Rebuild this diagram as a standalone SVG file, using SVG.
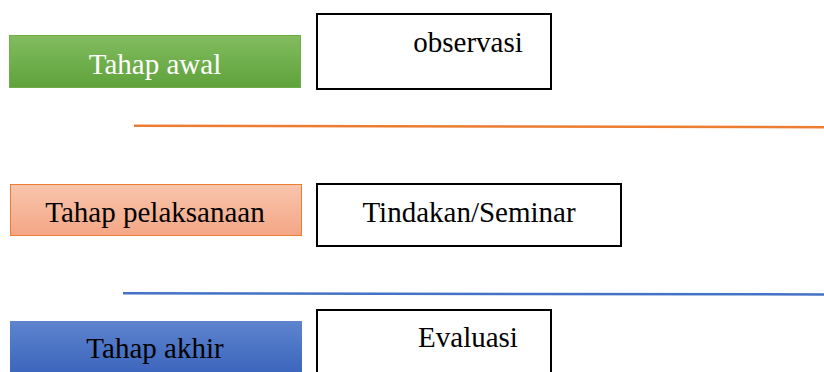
<svg xmlns="http://www.w3.org/2000/svg" width="824" height="372" viewBox="0 0 824 372">
<defs>
<linearGradient id="gGreen" x1="0" y1="0" x2="0" y2="1"><stop offset="0" stop-color="#82BC5F"/><stop offset="1" stop-color="#5FA23B"/></linearGradient>
<linearGradient id="gOrange" x1="0" y1="0" x2="0" y2="1"><stop offset="0" stop-color="#F8C5AD"/><stop offset="1" stop-color="#F4A685"/></linearGradient>
<linearGradient id="gBlue" x1="0" y1="0" x2="0" y2="1"><stop offset="0" stop-color="#5E84CE"/><stop offset="1" stop-color="#3A64BC"/></linearGradient>
</defs>
<style>
text{font-family:"Liberation Serif","Times New Roman",serif;font-size:29px;text-anchor:middle}
.box{fill:#fff;stroke:#000;stroke-width:2}
</style>
<rect width="824" height="372" fill="#fff"/>
<g id="connectors">
<line x1="134" y1="125.8" x2="824" y2="127.2" stroke="#ED7D31" stroke-width="2.5"/>
<line x1="123" y1="293.3" x2="824" y2="294.4" stroke="#4472C4" stroke-width="2.5"/>
</g>
<g id="tahap-awal">
<rect x="9.5" y="35.5" width="291" height="52" fill="url(#gGreen)" stroke="#70AD47" stroke-width="1"/>
<text x="155" y="74" fill="#fff">Tahap awal</text>
</g>
<g id="observasi">
<rect class="box" x="317" y="14" width="234" height="75"/>
<text x="468" y="52">observasi</text>
</g>
<g id="tahap-pelaksanaan">
<rect x="10.5" y="184.5" width="291" height="51" fill="url(#gOrange)" stroke="#ED7D31" stroke-width="1"/>
<text x="155" y="222">Tahap pelaksanaan</text>
</g>
<g id="tindakan">
<rect class="box" x="317" y="184" width="304" height="62"/>
<text x="469" y="222">Tindakan/Seminar</text>
</g>
<g id="tahap-akhir">
<rect x="10" y="321" width="292" height="55" fill="url(#gBlue)"/>
<text x="155" y="358" fill="#000">Tahap akhir</text>
</g>
<g id="evaluasi">
<rect class="box" x="317" y="310" width="234" height="70"/>
<text x="468" y="347">Evaluasi</text>
</g>
</svg>
